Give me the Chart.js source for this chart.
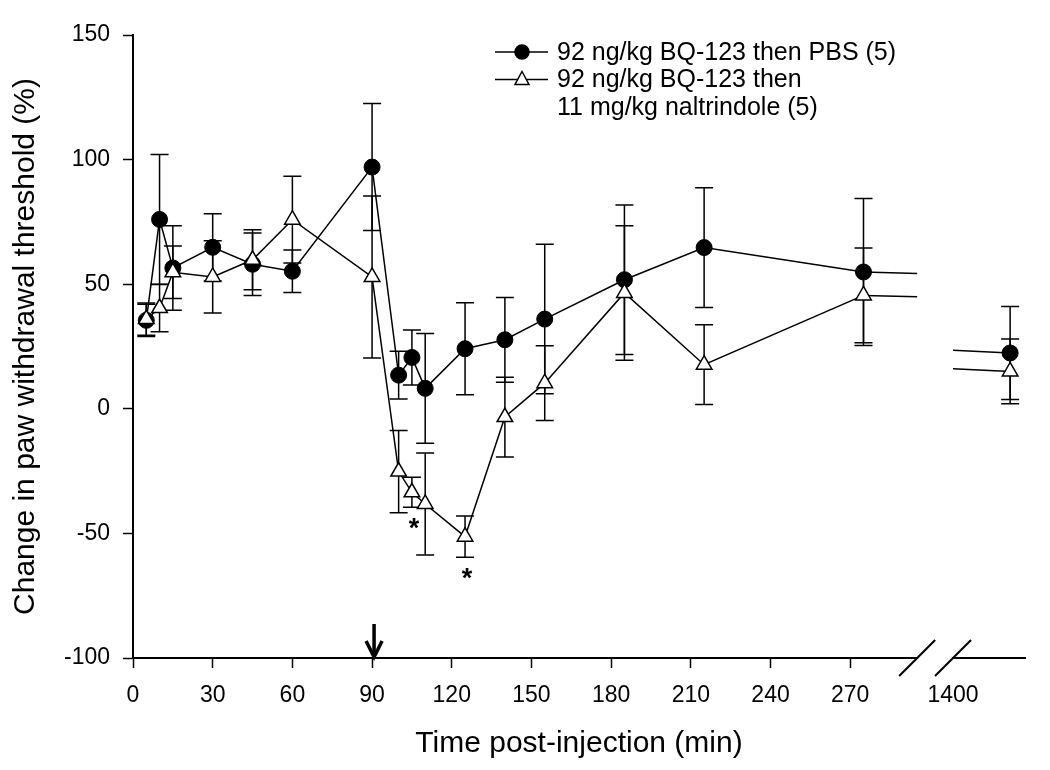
<!DOCTYPE html>
<html>
<head>
<meta charset="utf-8">
<script src="https://cdn.jsdelivr.net/npm/chart.js@4"></script>
<style>
  body { margin: 0; background: #fff; }
  #wrap { width: 1050px; height: 770px; }
</style>
</head>
<body>
<div id="wrap"><canvas id="chart" width="1050" height="770"></canvas></div>
<script>
// time points (min) and mean +/- SEM
const times = [5, 10, 15, 30, 45, 60, 90, 100, 105, 110, 125, 140, 155, 185, 215, 275, 1440];
const pbsMean = [35.5, 76, 56.5, 64.8, 58, 55.2, 97, 13.5, 20.6, 8.2, 24.1, 27.7, 36, 51.8, 64.7, 54.9, 22.4];
const pbsSem = [6.5, 26, 17, 13.5, 12.5, 8.5, 25.5, 9.6, 11, 22, 18.5, 17, 30, 30, 24, 29.5, 18.7];
const ntiMean = [36, 40.4, 54.8, 52.9, 59.8, 75.9, 52.9, -25.2, -33.5, -38.2, -51.3, -3.3, 10.3, 46.5, 17.7, 45.5, 15];
const ntiSem = [6.5, 9.5, 10.5, 14.5, 12, 17.4, 32.5, 16.5, 6, 20.5, 8.3, 16, 15, 27, 16, 19, 13];
const starTimes = [105, 125];

const xTicks = [0, 30, 60, 90, 120, 150, 180, 210, 240, 270, 1400];
const yTicks = [-100, -50, 0, 50, 100, 150];

const legendLines = [
  ['92 ng/kg BQ-123 then PBS (5)'],
  ['92 ng/kg BQ-123 then', '11 mg/kg naltrindole (5)']
];

// broken x axis: 0..~295 min linear, then a compressed piece from 1400 on
const BREAK_LEFT = 295.2;
const BREAK_RIGHT = 308.7;
const RIGHT_SCALE = 0.5375;
function disp(t) {
  return t <= 300 ? t : BREAK_RIGHT + (t - 1400) * RIGHT_SCALE;
}

const FONT = "'Liberation Sans', Arial, sans-serif";

function pts(mean) {
  return times.map((t, i) => ({ x: disp(t), y: mean[i] }));
}

const hideJump = {
  borderColor: ctx => (ctx.p1.parsed.x > BREAK_LEFT ? 'rgba(0,0,0,0)' : undefined)
};

const extras = {
  id: 'extras',
  beforeDatasetsDraw(chart) {
    const { ctx, scales: { x, y } } = chart;
    ctx.save();
    ctx.strokeStyle = '#000';
    ctx.lineWidth = 1.5;
    [[pbsMean, pbsSem], [ntiMean, ntiSem]].forEach(([m, s]) => {
      times.forEach((t, i) => {
        const px = x.getPixelForValue(disp(t));
        const top = y.getPixelForValue(m[i] + s[i]);
        const bot = y.getPixelForValue(m[i] - s[i]);
        ctx.beginPath();
        ctx.moveTo(px, top); ctx.lineTo(px, bot);
        ctx.moveTo(px - 9, top); ctx.lineTo(px + 9, top);
        ctx.moveTo(px - 9, bot); ctx.lineTo(px + 9, bot);
        ctx.stroke();
      });
    });
    // line pieces either side of the axis break
    const n = times.length - 1;
    [pbsMean, ntiMean].forEach(m => {
      const yAt = t => m[n - 1] + (m[n] - m[n - 1]) * (t - times[n - 1]) / (times[n] - times[n - 1]);
      ctx.beginPath();
      ctx.moveTo(x.getPixelForValue(disp(times[n - 1])), y.getPixelForValue(m[n - 1]));
      ctx.lineTo(x.getPixelForValue(BREAK_LEFT), y.getPixelForValue(yAt(BREAK_LEFT)));
      ctx.moveTo(x.getPixelForValue(disp(1400)), y.getPixelForValue(yAt(1400)));
      ctx.lineTo(x.getPixelForValue(disp(times[n])), y.getPixelForValue(m[n]));
      ctx.stroke();
    });
    ctx.restore();
  },
  afterDatasetsDraw(chart) {
    const { ctx, chartArea: a, scales: { x, y } } = chart;
    ctx.save();
    // gap and slashes on the x axis
    const xl = x.getPixelForValue(BREAK_LEFT);
    const xr = x.getPixelForValue(BREAK_RIGHT);
    ctx.fillStyle = '#fff';
    ctx.fillRect(xl + 1, a.bottom - 3, xr - xl - 2, 6);
    ctx.strokeStyle = '#000';
    ctx.lineWidth = 2;
    [xl, xr].forEach(px => {
      ctx.beginPath();
      ctx.moveTo(px - 18, a.bottom + 18);
      ctx.lineTo(px + 18, a.bottom - 18);
      ctx.stroke();
    });
    // arrow at 90 min
    const ax = x.getPixelForValue(90) + 2;
    ctx.lineWidth = 3.5;
    ctx.beginPath();
    ctx.moveTo(ax, a.bottom - 34);
    ctx.lineTo(ax, a.bottom - 2);
    ctx.stroke();
    ctx.beginPath();
    ctx.moveTo(ax - 8, a.bottom - 17);
    ctx.lineTo(ax, a.bottom - 1);
    ctx.lineTo(ax + 8, a.bottom - 17);
    ctx.stroke();
    // significance stars
    ctx.fillStyle = '#000';
    ctx.font = 'bold 27px ' + FONT;
    ctx.textAlign = 'center';
    ctx.textBaseline = 'middle';
    starTimes.forEach(t => {
      const i = times.indexOf(t);
      ctx.fillText('*', x.getPixelForValue(disp(t)) + 2, y.getPixelForValue(ntiMean[i] - ntiSem[i]) + 22);
    });
    // legend
    const lx = 495, ly = 52, step = 27.5;
    ctx.font = '25px ' + FONT;
    ctx.textAlign = 'left';
    ctx.lineWidth = 1.5;
    legendLines.forEach((lines, k) => {
      const yy = ly + k * step;
      ctx.beginPath();
      ctx.moveTo(lx, yy); ctx.lineTo(lx + 53, yy);
      ctx.stroke();
      ctx.beginPath();
      if (k === 0) {
        ctx.arc(lx + 27, yy, 7, 0, Math.PI * 2);
        ctx.fillStyle = '#000';
      } else {
        ctx.moveTo(lx + 27, yy - 8);
        ctx.lineTo(lx + 34, yy + 5);
        ctx.lineTo(lx + 20, yy + 5);
        ctx.closePath();
        ctx.fillStyle = '#fff';
      }
      ctx.fill();
      ctx.stroke();
      ctx.fillStyle = '#000';
      lines.forEach((s, j) => ctx.fillText(s, lx + 62, yy + 1 + j * step));
    });
    ctx.restore();
  }
};

new Chart(document.getElementById('chart'), {
  type: 'line',
  data: {
    datasets: [
      {
        label: legendLines[0].join(' '),
        data: pts(pbsMean),
        borderColor: '#000',
        borderWidth: 1.5,
        pointStyle: 'circle',
        pointRadius: 8,
        pointBackgroundColor: '#000',
        pointBorderColor: '#000',
        pointBorderWidth: 1,
        tension: 0,
        order: 2,
        segment: hideJump
      },
      {
        label: legendLines[1].join(' '),
        data: pts(ntiMean),
        borderColor: '#000',
        borderWidth: 1.5,
        pointStyle: 'triangle',
        pointRadius: 9,
        pointBackgroundColor: '#fff',
        pointBorderColor: '#000',
        pointBorderWidth: 1.5,
        tension: 0,
        order: 1,
        segment: hideJump
      }
    ]
  },
  options: {
    responsive: false,
    animation: false,
    devicePixelRatio: 1,
    layout: { padding: { left: 0, right: 25, top: 35, bottom: 0 } },
    plugins: { legend: { display: false }, tooltip: { enabled: false } },
    scales: {
      x: {
        type: 'linear',
        min: 0,
        max: 335.8,
        afterBuildTicks: s => { s.ticks = xTicks.map(v => ({ value: disp(v) })); },
        afterFit: s => { s.height = 112; },
        ticks: {
          autoSkip: false,
          maxRotation: 0,
          padding: 14,
          color: '#000',
          font: { family: FONT, size: 23 },
          callback: v => (v > BREAK_LEFT ? '1400' : String(v))
        },
        grid: {
          drawOnChartArea: false,
          tickLength: 10,
          tickWidth: 1.5,
          tickColor: c => (c.tick && c.tick.value > BREAK_LEFT ? 'rgba(0,0,0,0)' : '#000')
        },
        border: { color: '#000', width: 2 },
        title: {
          display: true,
          text: 'Time post-injection (min)',
          color: '#000',
          font: { family: FONT, size: 30 },
          padding: { top: 0, bottom: 8 }
        }
      },
      y: {
        min: -100,
        max: 150,
        afterBuildTicks: s => { s.ticks = yTicks.map(v => ({ value: v })); },
        afterFit: s => { s.width = 133; },
        ticks: {
          padding: 13,
          color: '#000',
          font: { family: FONT, size: 23 }
        },
        grid: { drawOnChartArea: false, tickLength: 10, tickWidth: 1.5, tickColor: '#000' },
        border: { color: '#000', width: 2 },
        title: {
          display: true,
          text: 'Change in paw withdrawal threshold (%)',
          color: '#000',
          font: { family: FONT, size: 30 },
          padding: { top: 8, bottom: 0 }
        }
      }
    }
  },
  plugins: [extras]
});
</script>
</body>
</html>
